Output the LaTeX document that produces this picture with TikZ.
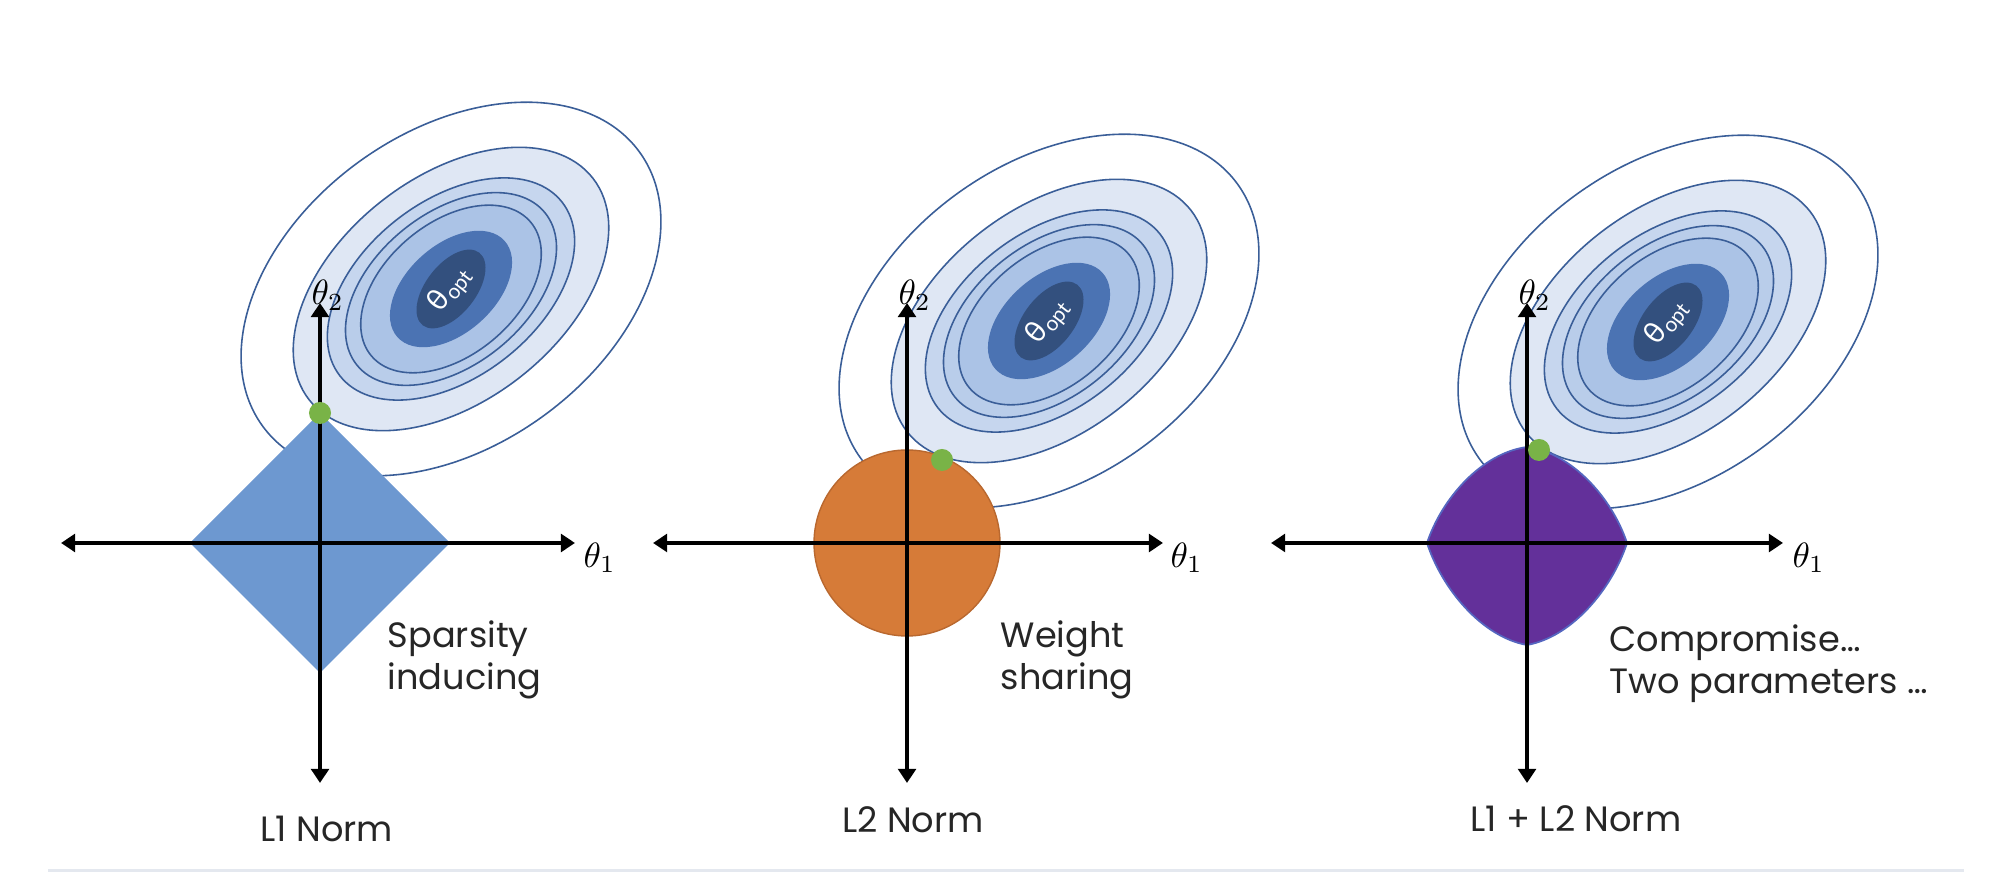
\documentclass[tikz,border=0pt]{standalone}
\usepackage{fontspec}
\setmainfont{Poppins}
\newfontfamily\optfont{Lato}
\usetikzlibrary{arrows.meta}

\definecolor{ringline}{HTML}{3A5E98}
\definecolor{ringa}{HTML}{DFE7F4}
\definecolor{ringb}{HTML}{C6D6EE}
\definecolor{ringc}{HTML}{B9CDEA}
\definecolor{ringd}{HTML}{ABC3E6}
\definecolor{midblue}{HTML}{4B73B3}
\definecolor{navy}{HTML}{33507E}
\definecolor{lonefill}{HTML}{6D98D0}
\definecolor{ltwofill}{HTML}{D67B38}
\definecolor{ltwoedge}{HTML}{B9682F}
\definecolor{netfill}{HTML}{63309A}
\definecolor{netedge}{HTML}{5566C0}
\definecolor{dotgreen}{HTML}{79B347}
\definecolor{textgray}{HTML}{262626}
\definecolor{rulegray}{HTML}{E4E8EF}

\tikzset{
  ring/.style={draw=ringline, line width=0.45pt},
  axis/.style={line width=1pt, {Triangle[width=5pt,length=4pt]}-{Triangle[width=5pt,length=4pt]}},
  dot/.style={circle, fill=dotgreen, minimum size=0.22cm, inner sep=0pt},
  thlabel/.style={inner sep=0pt, font=\fontsize{10}{12}\selectfont},
  note/.style={inner sep=0pt, align=left, text=textgray, font=\fontsize{10}{12}\selectfont},
  optlabel/.style={inner sep=0pt, text=white, rotate=52, font=\optfont\fontsize{8.5}{10}\selectfont},
  contours/.pic={
    \filldraw[ring, fill=white, rotate=36] (0,0) ellipse [x radius=233, y radius=157];
    \filldraw[ring, fill=ringa, rotate=38] (0,0) ellipse [x radius=180, y radius=112];
    \filldraw[ring, fill=ringb, rotate=38] (0,0) ellipse [x radius=141, y radius=88];
    \filldraw[ring, fill=ringc, rotate=39] (0,0) ellipse [x radius=121, y radius=76];
    \filldraw[ring, fill=ringd, rotate=40] (0,0) ellipse [x radius=104, y radius=66];
    \fill[midblue, rotate=42] (0,0) ellipse [x radius=72, y radius=44];
    \fill[navy, rotate=52] (0,0) ellipse [x radius=46, y radius=25];
    \node[optlabel] (-opt) at (0,0) {θ\textsubscript{opt}};
  }
}

\begin{document}
\begin{tikzpicture}[x=0.01cm,y=0.01cm]
\useasboundingbox (0,0) rectangle (2000,873);

% loss contours
\pic (c1) at (451,584) {contours};
\pic (c2) at (1049,552) {contours};
\pic (c3) at (1668,551) {contours};

% constraint regions
\fill[lonefill] (450,330) -- (320,460) -- (190,330) -- (320,200) -- cycle;
\draw[ltwoedge, line width=0.4pt, fill=ltwofill] (907,330) circle [radius=93];
\draw[netedge, line width=0.5pt, fill=netfill] (1627,330)
  .. controls (1612,375) and (1572,420) .. (1527,426)
  .. controls (1482,420) and (1442,375) .. (1427,330)
  .. controls (1442,284) and (1482,236) .. (1527,228)
  .. controls (1572,236) and (1612,284) .. (1627,330) -- cycle;

% axes
\draw[axis] (61,330) -- (575,330);
\draw[axis] (320,570) -- (320,90);
\draw[axis] (653,330) -- (1163,330);
\draw[axis] (907,570) -- (907,90);
\draw[axis] (1271,330) -- (1783,330);
\draw[axis] (1527,570) -- (1527,90);

\node[thlabel, anchor=west] (ta1) at (583,315) {$\theta_1$};
\node[thlabel, anchor=base west] (tb1) at (311,568) {$\theta_2$};
\node[thlabel, anchor=west] (ta2) at (1170,315) {$\theta_1$};
\node[thlabel, anchor=base west] (tb2) at (898,568) {$\theta_2$};
\node[thlabel, anchor=west] (ta3) at (1792,315) {$\theta_1$};
\node[thlabel, anchor=base west] (tb3) at (1518,568) {$\theta_2$};

% touching points
\node[dot] (g1) at (320,460) {};
\node[dot] (g2) at (942,413) {};
\node[dot] (g3) at (1539,423) {};

% texts
\node[note, anchor=north west] (n1) at (387,253) {Sparsity\\inducing};
\node[note, anchor=north west] (n2) at (1000,253) {Weight\\sharing};
\node[note, anchor=north west] (n3) at (1609,249) {Compromise…\\Two parameters …};

\node[note, anchor=base] (m1) at (327,31) {L1 Norm};
\node[note, anchor=base] (m2) at (913,40) {L2 Norm};
\node[note, anchor=base] (m3) at (1576,41) {L1 + L2 Norm};

\draw[rulegray, line width=0.8pt] (48,2.5) -- (1964,2.5);
\end{tikzpicture}
\end{document}
